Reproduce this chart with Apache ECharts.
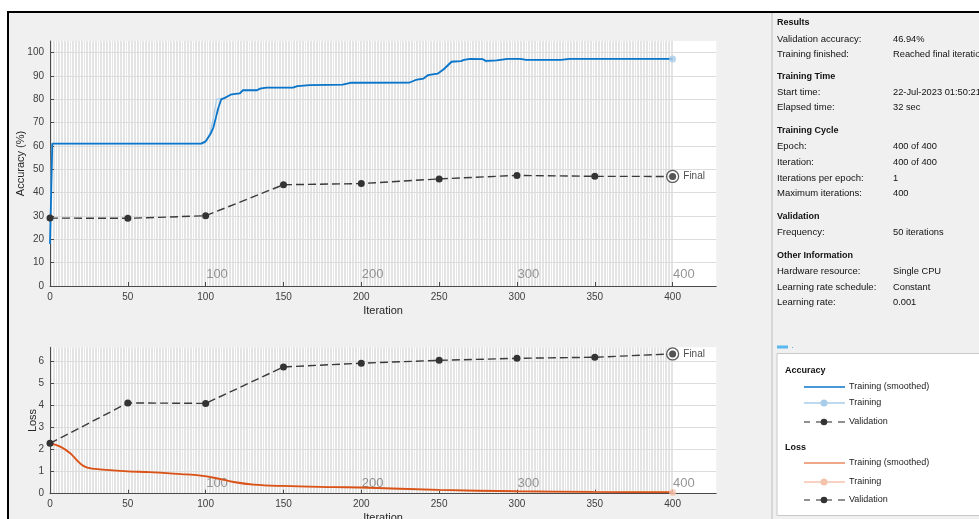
<!DOCTYPE html>
<html>
<head>
<meta charset="utf-8">
<script src="https://cdn.jsdelivr.net/npm/echarts@6/dist/echarts.min.js"></script>
<style>
  html, body { margin: 0; padding: 0; background: #ffffff; }
  #chart { width: 979px; height: 519px; }
</style>
</head>
<body>
<div id="chart"></div>
<script>
// ---- training data ----
const iterTicks = [0, 50, 100, 150, 200, 250, 300, 350, 400];
const accTicks = [0, 10, 20, 30, 40, 50, 60, 70, 80, 90, 100];
const lossTicks = [0, 1, 2, 3, 4, 5, 6];
const epochMarks = [100, 200, 300, 400];

// accuracy (%), smoothed training curve: [iteration, value]
const accSmoothed = [
  [0, 18], [1.5, 61], [97, 61], [100, 62], [103, 65], [105, 68], [108, 76], [110, 80],
  [112, 80.5], [114, 81.2], [116, 82], [119, 82.3], [122, 82.6], [124, 83.9], [133, 83.9],
  [135, 84.6], [139, 85], [156, 85], [159, 85.7], [167, 86.1], [188, 86.3], [193, 87.1],
  [231, 87.2], [235, 88.3], [240, 88.9], [243, 90.4], [249, 91], [253, 92.9], [258, 96.1],
  [264, 96.4], [266, 96.9], [270, 97.3], [278, 97.2], [280, 96.5], [287, 96.7], [294, 97.3],
  [302, 97.3], [306, 96.9], [328, 96.9], [334, 97.3], [400, 97.3]
];
// accuracy (%), raw training values
const accRaw = [
  [0, 18], [1, 61], [99, 61], [101, 62.5], [103, 66], [105, 72], [107, 80], [110, 80.3],
  [112, 80.6], [114, 81.3], [116, 82], [119, 82.3], [122, 82.7], [124, 84], [133, 84],
  [135, 84.7], [139, 85], [156, 85], [159, 85.8], [167, 86.1], [188, 86.3], [193, 87.1],
  [231, 87.2], [235, 88.4], [240, 89], [243, 90.6], [249, 91], [253, 93.2], [258, 96.3],
  [264, 96.4], [266, 97], [270, 97.3], [278, 97.3], [280, 96.0], [287, 96.7], [294, 97.3],
  [302, 97.3], [306, 96.9], [328, 96.9], [334, 97.3], [400, 97.3]
];
// validation every 50 iterations
const valIters = [0, 50, 100, 150, 200, 250, 300, 350, 400];
const accVal = [29.1, 29.0, 30.1, 43.4, 43.9, 45.9, 47.4, 47.0, 46.94];
const lossVal = [2.28, 4.11, 4.09, 5.74, 5.91, 6.04, 6.13, 6.18, 6.33];

// loss, smoothed training curve
const lossSmoothed = [
  [0, 2.28], [6.6, 2.13], [13, 1.83], [17, 1.53], [20.6, 1.3], [24, 1.18], [32, 1.1],
  [50, 1.01], [64, 0.98], [84, 0.89], [97, 0.82], [107, 0.7], [118, 0.53], [131, 0.41],
  [150, 0.35], [182, 0.3], [200, 0.28], [250, 0.17], [300, 0.11], [349, 0.08], [400, 0.07]
];
// loss, raw training values
const lossRaw = [
  [0, 2.3], [7, 2.12], [13, 1.85], [18, 1.5], [21, 1.26], [24, 1.17], [32, 1.09],
  [50, 1.0], [64, 0.97], [84, 0.88], [97, 0.81], [107, 0.68], [118, 0.52], [131, 0.4],
  [150, 0.34], [182, 0.3], [200, 0.27], [250, 0.16], [300, 0.1], [349, 0.07], [400, 0.06]
];

// information panel rows: [label, value, isHeader]
const panelRows = [
  ['Results', '', true],
  ['Validation accuracy:', '46.94%'],
  ['Training finished:', 'Reached final iteration'],
  ['Training Time', '', true],
  ['Start time:', '22-Jul-2023 01:50:21'],
  ['Elapsed time:', '32 sec'],
  ['Training Cycle', '', true],
  ['Epoch:', '400 of 400'],
  ['Iteration:', '400 of 400'],
  ['Iterations per epoch:', '1'],
  ['Maximum iterations:', '400'],
  ['Validation', '', true],
  ['Frequency:', '50 iterations'],
  ['Other Information', '', true],
  ['Hardware resource:', 'Single CPU'],
  ['Learning rate schedule:', 'Constant'],
  ['Learning rate:', '0.001']
];
const panelRowY = [23, 39, 54, 77, 92.5, 107.5, 131, 146.5, 162, 178, 193.5, 217, 232.5, 256, 271, 287, 302.5];

// ---- styling ----
const FONT = 'Liberation Sans, Arial, Helvetica, sans-serif';
const AXIS_COLOR = '#262626';
const BLUE = '#0b75c9';
const BLUE_LIGHT = '#a9cde9';
const ORANGE = '#D95319';
const ORANGE_LIGHT = '#f5c3ab';
const VAL_COLOR = '#3a3a3a';

const X_MAX = 428;
const PLOT_LEFT = 50;
const PLOT_W = 666.2;
const TEX_W = PLOT_W * 400 / X_MAX;

const gridBase = { outerBoundsMode: 'none', containLabel: false, borderWidth: 0 };
const grids = [
  { ...gridBase, left: PLOT_LEFT, top: 41, width: PLOT_W, height: 245, show: true, backgroundColor: '#ffffff' },
  { ...gridBase, left: PLOT_LEFT, top: 41, width: TEX_W, height: 245, show: false },
  { ...gridBase, left: PLOT_LEFT, top: 347.3, width: PLOT_W, height: 146.4, show: true, backgroundColor: '#ffffff' },
  { ...gridBase, left: PLOT_LEFT, top: 347.3, width: TEX_W, height: 146.4, show: false }
];

function mainX(gridIndex) {
  return {
    type: 'value', gridIndex, min: 0, max: X_MAX, z: 3,
    name: 'Iteration', nameLocation: 'middle', nameGap: 19, nameMoveOverlap: false,
    nameTextStyle: { fontSize: 11, color: AXIS_COLOR, fontFamily: FONT },
    axisLine: { show: true, onZero: false, lineStyle: { color: '#4a4a4a', width: 1 } },
    axisTick: { show: true, inside: true, length: 4, customValues: iterTicks, lineStyle: { color: '#4a4a4a' } },
    axisLabel: { customValues: iterTicks, fontSize: 10, color: '#404040', margin: 6, fontFamily: FONT },
    splitLine: { show: false }
  };
}
function textureX(gridIndex) {
  // one faint vertical line per epoch boundary
  return {
    type: 'value', gridIndex, min: 0, max: 400, interval: 1, z: 1,
    axisLine: { show: false }, axisTick: { show: false }, axisLabel: { show: false },
    splitLine: { show: true, lineStyle: { color: '#e4e4e4', width: 1 } }
  };
}
function mainY(gridIndex, max, ticks, name, gap) {
  return {
    type: 'value', gridIndex, min: 0, max, z: 2,
    name, nameLocation: 'middle', nameGap: gap, nameMoveOverlap: false,
    nameTextStyle: { fontSize: 11, color: AXIS_COLOR, fontFamily: FONT },
    axisLine: { show: true, lineStyle: { color: '#4a4a4a', width: 1 } },
    axisTick: { show: true, inside: true, length: 4, customValues: ticks, lineStyle: { color: '#4a4a4a' } },
    axisLabel: { customValues: ticks, fontSize: 10, color: '#404040', margin: 6, fontFamily: FONT },
    splitLine: { show: true, lineStyle: { color: '#dcdcdc', width: 1 } }
  };
}
function hiddenY(gridIndex, max) {
  return { type: 'value', gridIndex, min: 0, max, show: false, splitLine: { show: false } };
}

const pairs = (xs, ys) => xs.map((x, i) => [x, ys[i]]);
const last = arr => arr[arr.length - 1];

function plotSeries(ax, smoothed, raw, val, smoothColor, rawColor, epochLabelY, smoothCurve) {
  return [
    { type: 'line', xAxisIndex: ax, yAxisIndex: ax, data: raw, showSymbol: false, smooth: smoothCurve,
      lineStyle: { color: rawColor, width: 1.2 }, z: 5, silent: true },
    { type: 'line', xAxisIndex: ax, yAxisIndex: ax, data: smoothed, showSymbol: false, smooth: smoothCurve,
      lineStyle: { color: smoothColor, width: 1.8 }, z: 6, silent: true },
    { type: 'scatter', xAxisIndex: ax, yAxisIndex: ax, data: [last(raw)], symbolSize: 7,
      itemStyle: { color: rawColor }, z: 6, silent: true },
    { type: 'line', xAxisIndex: ax, yAxisIndex: ax, data: pairs(valIters, val), showSymbol: true,
      symbol: 'circle', symbolSize: 7, itemStyle: { color: '#333333' },
      lineStyle: { color: VAL_COLOR, width: 1.4, type: [8, 4] }, z: 7, silent: true },
    { type: 'scatter', xAxisIndex: ax, yAxisIndex: ax, data: [[last(valIters), last(val)]],
      symbol: 'circle', symbolSize: 12,
      itemStyle: { color: '#ffffff', borderColor: '#333333', borderWidth: 1.3 }, z: 8, silent: true,
      label: { show: true, position: 'right', distance: 4, formatter: 'Final',
        fontSize: 10, color: '#1a1a1a', fontFamily: FONT } },
    { type: 'scatter', xAxisIndex: ax, yAxisIndex: ax, data: [[last(valIters), last(val)]],
      symbol: 'circle', symbolSize: 7, itemStyle: { color: '#333333' }, z: 9, silent: true },
    { type: 'scatter', xAxisIndex: ax, yAxisIndex: ax, data: epochMarks.map(e => [e, epochLabelY]),
      symbol: 'circle', symbolSize: 1, itemStyle: { color: 'rgba(0,0,0,0)' }, z: 4, silent: true,
      label: { show: true, position: 'right', distance: 0, formatter: p => String(p.value[0]),
        fontSize: 13, color: '#7a7a7a', fontFamily: FONT } }
  ];
}

// ---- panel & legend graphics ----
const graphics = [];
graphics.push({ type: 'rect', z: -10, shape: { x: 8, y: 12, width: 990, height: 520 },
  style: { fill: '#f0f0f0', stroke: '#000000', lineWidth: 2 }, silent: true });
graphics.push({ type: 'line', z: -5, shape: { x1: 772, y1: 13, x2: 772, y2: 519 },
  style: { stroke: '#bcbcbc', lineWidth: 1 }, silent: true });
panelRows.forEach((r, i) => {
  graphics.push({ type: 'text', x: 777, y: panelRowY[i], silent: true,
    style: { text: r[0], fill: '#111111', font: r[2] ? ('bold 9px ' + FONT) : ('9.5px ' + FONT), textVerticalAlign: 'middle' } });
  if (r[1]) {
    graphics.push({ type: 'text', x: 893, y: panelRowY[i], silent: true,
      style: { text: r[1], fill: '#111111', font: '9.3px ' + FONT, textVerticalAlign: 'middle' } });
  }
});
// collapse handle above the legend
graphics.push({ type: 'rect', shape: { x: 777, y: 345.5, width: 11, height: 3 }, style: { fill: '#5ab8f0' }, silent: true });
graphics.push({ type: 'rect', shape: { x: 792, y: 347, width: 1, height: 1 }, style: { fill: '#5ab8f0' }, silent: true });
graphics.push({ type: 'rect', shape: { x: 777, y: 353.5, width: 230, height: 162 },
  style: { fill: '#ffffff', stroke: '#c8c8c8', lineWidth: 1 }, silent: true });

const legendGroups = [
  { title: 'Accuracy', titleY: 371, rows: [
    { y: 387, kind: 'solid', color: BLUE, text: 'Training (smoothed)' },
    { y: 403, kind: 'dot', color: BLUE_LIGHT, text: 'Training' },
    { y: 422, kind: 'dash', color: VAL_COLOR, text: 'Validation' } ] },
  { title: 'Loss', titleY: 448, rows: [
    { y: 463, kind: 'solid', color: '#e8895f', text: 'Training (smoothed)' },
    { y: 482, kind: 'dot', color: ORANGE_LIGHT, text: 'Training' },
    { y: 500, kind: 'dash', color: VAL_COLOR, text: 'Validation' } ] }
];
legendGroups.forEach(g => {
  graphics.push({ type: 'text', x: 785, y: g.titleY, silent: true,
    style: { text: g.title, fill: '#111111', font: 'bold 9px ' + FONT, textVerticalAlign: 'middle' } });
  g.rows.forEach(r => {
    if (r.kind === 'dash') {
      [[804, 810], [816, 832], [838, 845]].forEach(s => graphics.push({ type: 'line', silent: true,
        shape: { x1: s[0], y1: r.y, x2: s[1], y2: r.y }, style: { stroke: '#555555', lineWidth: 1.3 } }));
      graphics.push({ type: 'circle', silent: true, shape: { cx: 824, cy: r.y, r: 3.3 }, style: { fill: '#333333' } });
    } else {
      graphics.push({ type: 'line', silent: true, shape: { x1: 804, y1: r.y, x2: 845, y2: r.y },
        style: { stroke: r.color, lineWidth: 1.5 } });
      if (r.kind === 'dot') {
        graphics.push({ type: 'circle', silent: true, shape: { cx: 824, cy: r.y, r: 3.5 }, style: { fill: r.color } });
      }
    }
    graphics.push({ type: 'text', x: 849, y: r.y, silent: true,
      style: { text: r.text, fill: '#222222', font: '9px ' + FONT, textVerticalAlign: 'middle' } });
  });
});

const chart = echarts.init(document.getElementById('chart'), null, { renderer: 'canvas' });
chart.setOption({
  animation: false,
  backgroundColor: '#ffffff',
  textStyle: { fontFamily: FONT },
  grid: grids,
  xAxis: [mainX(0), textureX(1), mainX(2), textureX(3)],
  yAxis: [mainY(0, 105, accTicks, 'Accuracy (%)', 24), hiddenY(1, 105), mainY(2, 6.63, lossTicks, 'Loss', 12), hiddenY(3, 6.63)],
  series: [
    ...plotSeries(0, accSmoothed, accRaw, accVal, BLUE, BLUE_LIGHT, 5.1, false),
    ...plotSeries(2, lossSmoothed, lossRaw, lossVal, ORANGE, ORANGE_LIGHT, 0.46, 0.4)
  ],
  graphic: graphics
});
</script>
</body>
</html>
